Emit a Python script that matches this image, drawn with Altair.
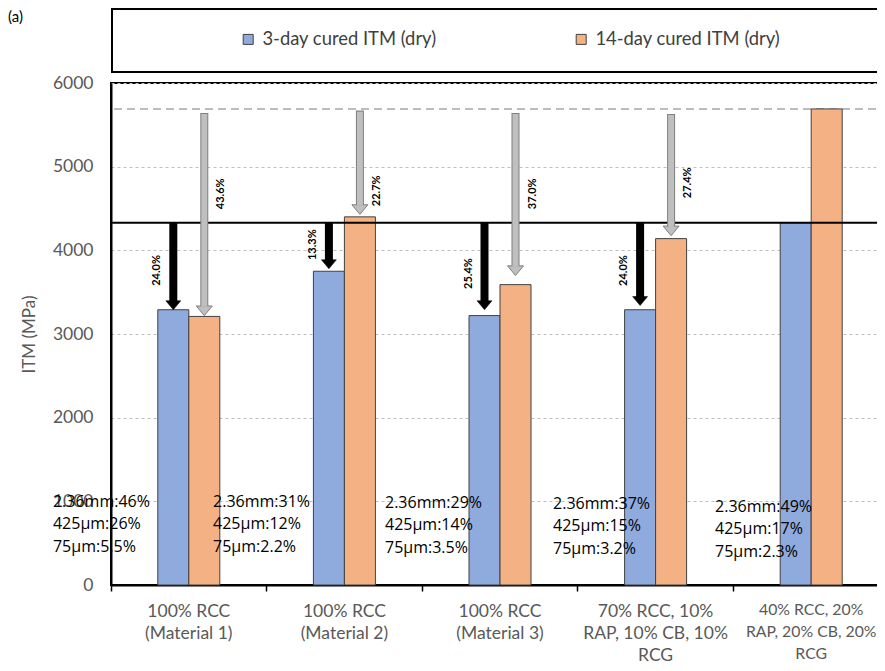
import altair as alt
import pandas as pd

# ---------------- data ----------------
CATEGORIES = [
    "100% RCC|(Material 1)",
    "100% RCC|(Material 2)",
    "100% RCC|(Material 3)",
    "70% RCC, 10%|RAP, 10% CB, 10%|RCG",
    "40% RCC, 20%|RAP, 20% CB, 20%|RCG",
]
SERIES = ["3-day cured ITM (dry)", "14-day cured ITM (dry)"]
ITM_3DAY = [3290, 3750, 3220, 3290, 4330]
ITM_14DAY = [3210, 4400, 3590, 4140, 5690]

REF_3DAY = 4330          # solid reference line (best 3-day value)
REF_14DAY = 5690         # dashed reference line (best 14-day value)

BLACK_TIP = [3290, 3780, 3290, 3340]
GRAY_TOP = [5640, 5670, 5640, 5630]
GRAY_TIP = [3220, 4430, 3700, 4175]
BLACK_PCT = ["24.0%", "13.3%", "25.4%", "24.0%"]
GRAY_PCT = ["43.6%", "22.7%", "37.0%", "27.4%"]
BLACK_PCT_Y = [3760, 4068, 3722, 3758]
GRAY_PCT_Y = [4676, 4712, 4676, 4807]

GRADATION = [
    "2.36mm:46%\n425µm:26%\n75µm:5.5%",
    "2.36mm:31%\n425µm:12%\n75µm:2.2%",
    "2.36mm:29%\n425µm:14%\n75µm:3.5%",
    "2.36mm:37%\n425µm:15%\n75µm:3.2%",
    "2.36mm:49%\n425µm:17%\n75µm:2.3%",
]
GRAD_POS = [-0.373, 0.656, 1.761, 2.841, 3.882]   # in category units
GRAD_Y = [935, 935, 923, 911, 875]

# ---------------- style ----------------
FONT = "Lato"
BLUE = "#8FAADC"
ORANGE = "#F4B183"
W, H = 778, 502
STEP = W / 5
HEAD_UNITS = 100  # arrow-head height in MPa units (~9 px)

bars_df = pd.DataFrame({
    "category": CATEGORIES * 2,
    "series": [SERIES[0]] * 5 + [SERIES[1]] * 5,
    "itm": ITM_3DAY + ITM_14DAY,
})
black_df = pd.DataFrame({
    "category": CATEGORIES[:4],
    "series": [SERIES[0]] * 4,
    "top": [REF_3DAY] * 4,
    "tip": BLACK_TIP,
    "pct": BLACK_PCT,
    "pct_y": BLACK_PCT_Y,
})
gray_df = pd.DataFrame({
    "category": CATEGORIES[:4],
    "series": [SERIES[1]] * 4,
    "top": GRAY_TOP,
    "tip": GRAY_TIP,
    "pct": GRAY_PCT,
    "pct_y": GRAY_PCT_Y,
})
grad_df = pd.DataFrame({"pos": GRAD_POS, "itm": GRAD_Y, "txt": GRADATION})

y_scale = alt.Scale(domain=[0, 6000], nice=False, zero=True)

last_cat = CATEGORIES[-1]
x_enc = alt.X(
    "category:N", sort=CATEGORIES, title=None,
    scale=alt.Scale(paddingInner=0, paddingOuter=0),
    axis=alt.Axis(
        labelExpr="split(datum.label, '|')", labelAngle=0, bandPosition=0,
        labelFont=FONT,
        labelFontSize={"condition": {"test": f"datum.value === '{last_cat}'", "value": 15.8},
                       "value": 17.5},
        labelColor="#595959",
        labelLineHeight=22, labelPadding=11, labelLimit=300,
        domainColor="black", domainWidth=2, tickColor="black", tickWidth=1.5,
        tickSize=6, grid=False, labelOverlap=False,
    ),
)
xoff = alt.XOffset(
    "series:N", sort=SERIES,
    scale=alt.Scale(domain=SERIES, paddingInner=0, paddingOuter=0,
                    range=[STEP / 2 - 31, STEP / 2 + 31]),
)

bars = alt.Chart(bars_df).mark_bar(stroke="#404040", strokeWidth=1).encode(
    x=x_enc,
    xOffset=xoff,
    y=alt.Y(
        "itm:Q", scale=y_scale, title="ITM (MPa)",
        axis=alt.Axis(
            values=[0, 1000, 2000, 3000, 4000, 5000, 6000], format="d", ticks=False,
            labelFont=FONT, labelFontSize=17.5, labelColor="#595959", labelPadding=18,
            domainColor="black", domainWidth=2,
            grid=True, gridColor="#BFBFBF", gridDash=[3, 3], gridWidth=1,
            titleFont=FONT, titleFontSize=17, titleFontWeight="normal",
            titleColor="#595959", titleX=-82, titleY=H / 2, titleAngle=270,
            titleAlign="center", titleBaseline="middle",
        ),
    ),
    color=alt.Color(
        "series:N", sort=SERIES,
        scale=alt.Scale(domain=SERIES, range=[BLUE, ORANGE]),
        legend=alt.Legend(
            title=None, orient="none", legendX=128, legendY=-53,
            direction="horizontal", symbolType="square", symbolSize=100,
            symbolStrokeColor="#404040", symbolStrokeWidth=1, symbolOpacity=1,
            labelFont=FONT, labelFontSize=18.4, labelColor="#404040", labelLimit=400,
            columnPadding=135, padding=0, labelOffset=5,
        ),
    ),
)

dashed_top = alt.Chart(pd.DataFrame({"itm": [REF_14DAY]})).mark_rule(
    color="#A6A6A6", strokeWidth=1.5, strokeDash=[8, 5]
).encode(y=alt.Y("itm:Q", scale=y_scale))

ref_line = alt.Chart(pd.DataFrame({"itm": [REF_3DAY]})).mark_rule(
    color="black", strokeWidth=2
).encode(y=alt.Y("itm:Q", scale=y_scale))

arrow_x = alt.X("category:N", sort=CATEGORIES)

black_shaft = alt.Chart(black_df).transform_calculate(
    shaft_end=f"datum.tip + {HEAD_UNITS}"
).mark_rule(color="black", strokeWidth=8).encode(
    x=arrow_x, xOffset=xoff, y=alt.Y("top:Q", scale=y_scale), y2="shaft_end:Q"
)
black_head = alt.Chart(black_df).mark_point(
    shape="M-1,-1.2L1,-1.2L0,0Z", size=225, filled=True, fill="black",
    stroke="black", strokeWidth=0.5, opacity=1,
).encode(x=arrow_x, xOffset=xoff, y=alt.Y("tip:Q", scale=y_scale))

gray_outer = alt.Chart(gray_df).transform_calculate(
    shaft_end=f"datum.tip + {HEAD_UNITS + 15}"
).mark_rule(color="#7F7F7F", strokeWidth=8).encode(
    x=arrow_x, xOffset=xoff, y=alt.Y("top:Q", scale=y_scale), y2="shaft_end:Q"
)
gray_head = alt.Chart(gray_df).mark_point(
    shape="M-1,-1.2L1,-1.2L0,0Z", size=256, filled=True, fill="#BFBFBF",
    stroke="#7F7F7F", strokeWidth=1, opacity=1,
).encode(x=arrow_x, xOffset=xoff, y=alt.Y("tip:Q", scale=y_scale))
gray_inner = alt.Chart(gray_df).transform_calculate(
    s_top="datum.top - 12", shaft_end=f"datum.tip + {HEAD_UNITS + 5}"
).mark_rule(color="#BFBFBF", strokeWidth=6).encode(
    x=arrow_x, xOffset=xoff, y=alt.Y("s_top:Q", scale=y_scale), y2="shaft_end:Q"
)

black_pct = alt.Chart(black_df).mark_text(
    angle=270, font=FONT, fontSize=11, fontWeight="bold", color="black",
    align="center", baseline="middle", dy=-16,
).encode(x=arrow_x, xOffset=xoff, y=alt.Y("pct_y:Q", scale=y_scale), text="pct:N")
gray_pct = alt.Chart(gray_df).mark_text(
    angle=270, font=FONT, fontSize=11, fontWeight="bold", color="black",
    align="center", baseline="middle", dy=17,
).encode(x=arrow_x, xOffset=xoff, y=alt.Y("pct_y:Q", scale=y_scale), text="pct:N")

legend_box = alt.Chart(pd.DataFrame({"k": [0]})).mark_rect(
    fillOpacity=0, stroke="black", strokeWidth=2
).encode(x=alt.value(1), x2=alt.value(W + 10), y=alt.value(-74), y2=alt.value(-11))

panel_tag = alt.Chart(pd.DataFrame({"t": ["(a)"]})).mark_text(
    font=FONT, fontSize=15, color="black", align="left", baseline="middle"
).encode(x=alt.value(-103), y=alt.value(-66), text="t:N")

inner = alt.layer(
    dashed_top, bars, ref_line,
    black_shaft, black_head,
    gray_outer, gray_head, gray_inner,
    black_pct, gray_pct, legend_box, panel_tag,
)

grad_text = alt.Chart(grad_df).mark_text(
    font="Open Sans", fontSize=16, color="black", align="left",
    baseline="alphabetic", lineBreak="\n", lineHeight=22.5,
).encode(
    x=alt.X("pos:Q", scale=alt.Scale(domain=[0, 5], nice=False, zero=False), axis=None),
    y=alt.Y("itm:Q", scale=y_scale),
    text="txt:N",
)

chart = alt.layer(inner, grad_text).resolve_scale(x="independent").properties(
    width=W, height=H,
    autosize=alt.AutoSizeParams(type="none"),
    padding={"left": 103, "top": 75, "right": -12, "bottom": 78},
).configure_view(stroke="black", strokeWidth=2)

chart.save("out.html", embed_options={"renderer": "svg", "actions": False})
